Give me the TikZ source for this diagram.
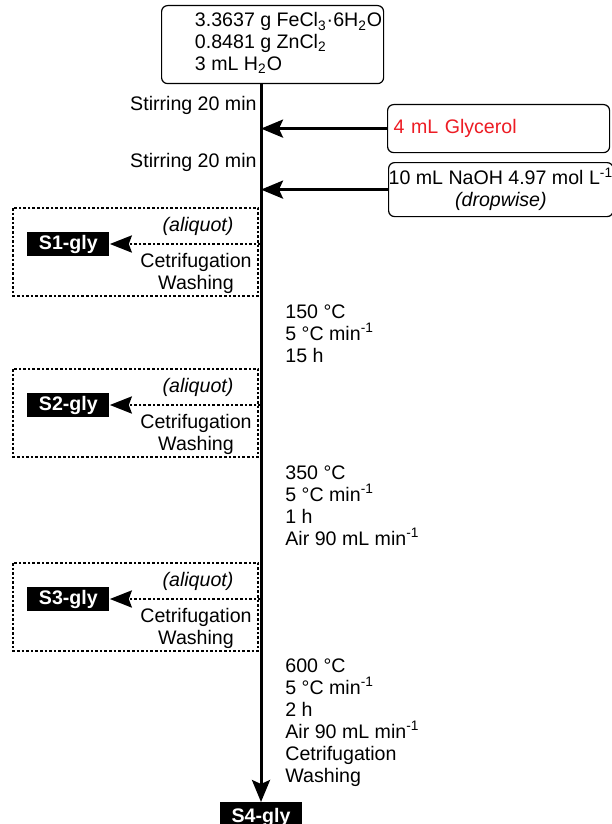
\documentclass[tikz,border=0pt]{standalone}
\usepackage{fontspec}
\setmainfont{Liberation Sans}
\usetikzlibrary{arrows.meta, positioning}
\definecolor{glyred}{RGB}{237,28,36}
\newcommand{\fs}{\fontsize{9.8}{11}\selectfont}
\tikzset{
  %% ---- boxes ----
  srcbox/.style  = {rectangle, rounded corners=3pt,
                    draw=black, line width=0.6pt,
                    fill=white, inner sep=0pt,
                    minimum width=111pt, minimum height=#1},
  srcbox/.default = 24pt,
  sample/.style  = {rectangle, fill=black, text=white,
                    font=\fs\bfseries, inner sep=0pt,
                    minimum width=41pt, minimum height=12pt},
  lbl/.style     = {inner sep=0pt},
  grpframe/.style= {line width=1.4pt, dash pattern=on 1.3pt off 1pt},
  %% ---- arrows ----
  arrow/.style   = {-{Stealth[length=11pt, width=9pt, inset=2pt]},
                    line width=1.5pt},
  dotarrow/.style= {-{Stealth[length=11pt, width=8.5pt, inset=1.5pt]},
                    line width=1.4pt, dash pattern=on 1.3pt off 1pt},
}

\begin{document}
\begin{tikzpicture}[x=0.5pt, y=-0.5pt, font=\fs]
  \useasboundingbox (0,0) rectangle (611,824);

  % starting solution
  \node[srcbox=39pt, anchor=north west] (top) at (161,5)
    {\begin{tabular}{@{\hspace{16pt}}l@{}}
     3.3637 g FeCl\textsubscript{3}·6H\textsubscript{2}O\\
     0.8481 g ZnCl\textsubscript{2}\\
     3 mL H\textsubscript{2}O
     \end{tabular}};

  \node[sample, minimum height=15pt, anchor=north] (s4) at (261,802) {S4-gly};
  \draw[arrow] (top.south -| s4) -- (s4.north);

  % additions
  \node[lbl, anchor=base east] (stir1) at (257,111) {Stirring 20 min};
  \node[lbl, anchor=base east] (stir2) at (257,168) {Stirring 20 min};

  \node[srcbox, anchor=north west, text width=105pt, align=left,
        inner xsep=3pt, text=glyred] (glyc) at (387,104) {4 mL Glycerol};
  \node[srcbox=27pt, anchor=north west, align=center] (naoh) at (388,162)
    {10 mL NaOH 4.97 mol L\textsuperscript{-1}\\\textit{(dropwise)}};

  \draw[arrow] (glyc.west) -- (glyc.west -| s4);
  \draw[arrow] (naoh.west) -- (naoh.west -| s4);

  % aliquots
  \foreach \i/\y in {1/208, 2/369, 3/563} {
    \draw[grpframe] (13,\y) rectangle (258,\y+88);
    \node[sample, anchor=west] (s\i) at (27,\y+36) {S\i-gly};
    \draw[dotarrow] (s\i.east -| s4) -- (s\i.east);
    \node[lbl, anchor=base] (aliq\i) at (198,\y+23) {\textit{(aliquot)}};
    \node[lbl, anchor=north, align=center] (wash\i) at (196,\y+45)
      {Cetrifugation\\Washing};
  }

  % thermal steps
  \node[lbl, anchor=north west, align=left] (cond1) at (285,304)
    {150 °C\\5 °C min\textsuperscript{-1}\\15 h};
  \node[lbl, anchor=north west, align=left] (cond2) at (285,465)
    {350 °C\\5 °C min\textsuperscript{-1}\\1 h\\Air 90 mL min\textsuperscript{-1}};
  \node[lbl, anchor=north west, align=left] (cond3) at (285,658)
    {600 °C\\5 °C min\textsuperscript{-1}\\2 h\\Air 90 mL min\textsuperscript{-1}\\
     Cetrifugation\\Washing};

\end{tikzpicture}
\end{document}
